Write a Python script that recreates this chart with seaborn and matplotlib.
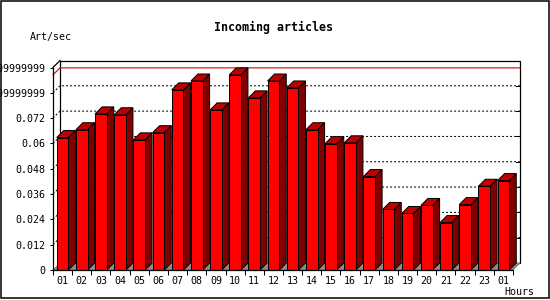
import numpy as np
import pandas as pd
import matplotlib
matplotlib.use("Agg")
import matplotlib.pyplot as plt
from matplotlib.patches import Polygon, Rectangle
from matplotlib.lines import Line2D
import seaborn as sns

# ---- data ----
hours = ["01", "02", "03", "04", "05", "06", "07", "08", "09", "10", "11", "12",
         "13", "14", "15", "16", "17", "18", "19", "20", "21", "22", "23", "01"]
rates = [0.0628, 0.0665, 0.0740, 0.0736, 0.0617, 0.0651, 0.0854, 0.0896,
         0.0759, 0.0925, 0.0816, 0.0896, 0.0863, 0.0665, 0.0599, 0.0603,
         0.0443, 0.0287, 0.0268, 0.0306, 0.0225, 0.0310, 0.0397, 0.0424]
yticks = [0, 0.012, 0.024, 0.036, 0.048, 0.06, 0.072, 0.084, 0.096]
ytick_labels = ["0", "0.012", "0.024", "0.036", "0.048", "0.06", "0.072",
                "0.08399999999", "0.09599999999"]
title = "Incoming articles"
ylabel = "Art/sec"
xlabel = "Hours"

plt.rcParams['font.family'] = ['DejaVu Sans Mono']

W, H = 550, 300
fig = plt.figure(figsize=(W / 100, H / 100), dpi=100)
fig.patch.set_facecolor("white")

# front axes frame (pixels): x 53..513, y 67.5..270
L, R, T, B = 53, 513, 67.5, 270
ax = fig.add_axes([L / W, 1 - B / H, (R - L) / W, (B - T) / H])
ax.patch.set_visible(False)

n = len(hours)
ymax = 0.096
ax.set_xlim(-0.5, n - 0.5)
ax.set_ylim(0, ymax)

depth_px = 7
ddx = depth_px / ((R - L) / n)
ddy = depth_px / ((B - T) / ymax)
px_x = 1 / ((R - L) / n)  # one pixel in x data units

df = pd.DataFrame({"pos": np.arange(n), "rate": rates})
sns.barplot(data=df, x="pos", y="rate", color="#ff0000", saturation=1,
            edgecolor="black", linewidth=0.72, width=0.61, errorbar=None, ax=ax)

xr0, xr1 = -0.5, n - 0.5
# back plane
ax.add_patch(Rectangle((xr0 + ddx, ddy), n, ymax, facecolor="white",
                       edgecolor="black", linewidth=0.9, zorder=0.5, clip_on=False))
# floor
ax.add_patch(Polygon([(xr0, 0), (xr1, 0), (xr1 + ddx, ddy), (xr0 + ddx, ddy)],
                     closed=True, facecolor="#8c8c8c", edgecolor="#707070",
                     linewidth=0.5, zorder=1.5, clip_on=False))
# left wall top diagonal
ax.add_line(Line2D([xr0, xr0 + ddx], [ymax, ymax + ddy], color="black",
                   linewidth=0.9, zorder=1, clip_on=False))
# grid lines
for v in yticks[1:-1]:
    ax.add_line(Line2D([xr0, xr0 + ddx, xr1 + ddx], [v, v + ddy, v + ddy],
                       color="black", linewidth=0.72, linestyle=(0, (2, 2)),
                       zorder=1, clip_on=False))
    ax.add_line(Line2D([xr1 + ddx - 4 * px_x, xr1 + ddx], [v + ddy, v + ddy],
                       color="black", linewidth=0.72, zorder=1, clip_on=False))
# max line
mx = max(rates)
ax.add_line(Line2D([xr0, xr0 + ddx, xr1 + ddx], [mx, mx + ddy, mx + ddy],
                   color="#d40000", linewidth=0.8, zorder=1.2, clip_on=False))

# 3D faces
for i, p in enumerate(ax.patches):
    if not isinstance(p, Rectangle) or p.get_facecolor()[:3] != (1.0, 0.0, 0.0):
        continue
for i, p in enumerate([pp for pp in ax.patches if isinstance(pp, Rectangle)
                       and pp.get_facecolor()[:3] == (1.0, 0.0, 0.0)]):
    x0 = p.get_x()
    w = p.get_width()
    h = p.get_height()
    xr = x0 + w
    z = 3 + i * 0.01
    side = Polygon([(xr, 0), (xr + ddx, ddy), (xr + ddx, h + ddy), (xr, h)],
                   closed=True, facecolor="#800000", edgecolor="black",
                   linewidth=0.72, zorder=z, clip_on=False)
    top = Polygon([(x0, h), (xr, h), (xr + ddx, h + ddy), (x0 + ddx, h + ddy)],
                  closed=True, facecolor="#c00000", edgecolor="black",
                  linewidth=0.72, zorder=z, clip_on=False)
    ax.add_patch(side)
    ax.add_patch(top)
    p.set_zorder(z + 0.005)
    p.set_clip_on(False)

# axes styling
for s in ["top", "right"]:
    ax.spines[s].set_visible(False)
for s in ["left", "bottom"]:
    ax.spines[s].set_color("black")
    ax.spines[s].set_linewidth(0.9)
    ax.spines[s].set_zorder(5)

ax.set_yticks(yticks, labels=ytick_labels)
ax.tick_params(axis="y", direction="out", length=2.5, width=0.72, pad=2.8,
               labelsize=7.2, colors="black")
ax.set_xticks(np.arange(n), labels=hours)
ax.tick_params(axis="x", which="major", length=0, pad=4.5, labelsize=7.2)
ax.set_xticks(np.arange(n + 1) - 0.5, minor=True)
ax.tick_params(axis="x", which="minor", direction="out", length=3.8, width=0.72)
ax.set_xlabel("")
ax.set_ylabel("")

# texts
fig.text(274 / W, 1 - 27 / H, title, ha="center", va="center",
         fontsize=8.4, fontweight="bold")
fig.text(30 / W, 1 - 37 / H, ylabel, ha="left", va="center", fontsize=7.2)
fig.text(504 / W, 1 - 292 / H, xlabel, ha="left", va="center", fontsize=7.2)

# outer frame
fig.patches.append(Rectangle((0.5 / W, 2.5 / H), 548 / W, 297 / H,
                             transform=fig.transFigure, fill=False,
                             edgecolor="black", linewidth=1.1))

fig.savefig("out.png", dpi=100)
